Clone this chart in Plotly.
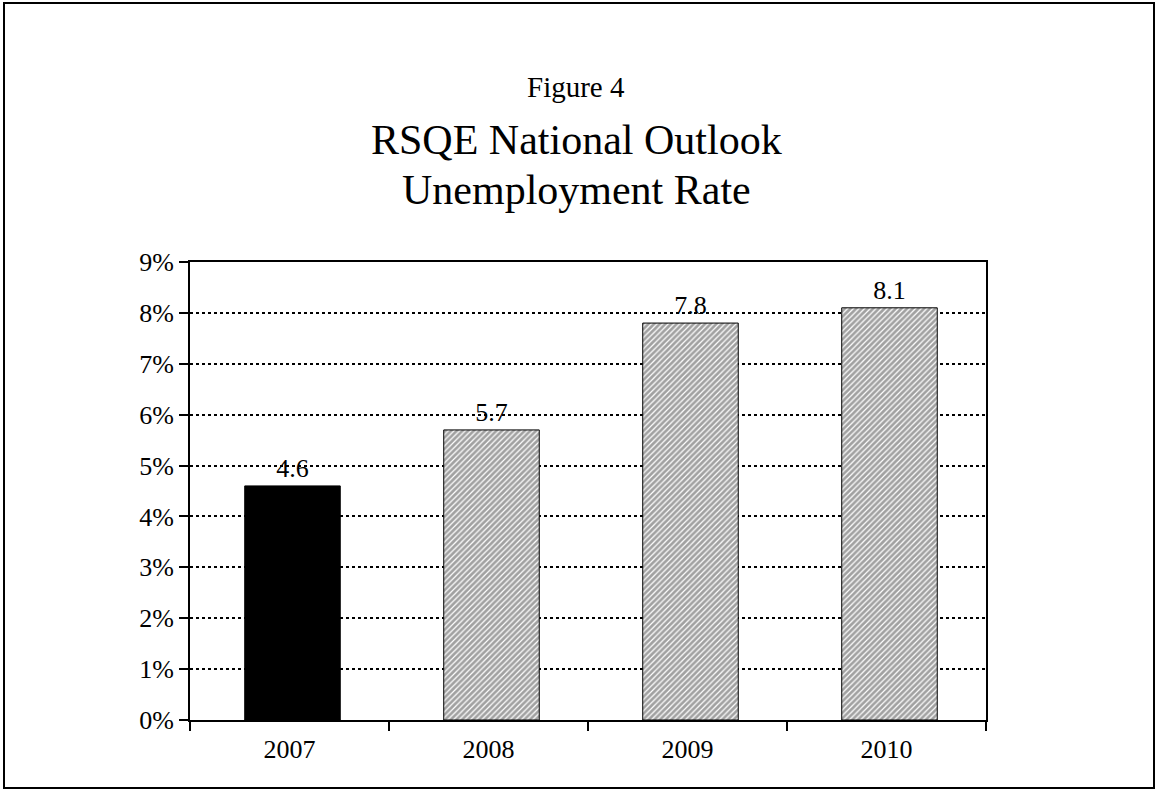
import plotly.graph_objects as go

# Unemployment rate forecast (percent)
years = ["2007", "2008", "2009", "2010"]
rates = [4.6, 5.7, 7.8, 8.1]
actual = [True, False, False, False]  # 2007 is actual, later years are forecasts
y_ticks = [0, 1, 2, 3, 4, 5, 6, 7, 8, 9]

FONT = "Liberation Serif, Times New Roman, serif"

W, H = 1156, 790
L, R, T, B = 190, 170, 262, 70

fig = go.Figure()

fig.add_trace(go.Bar(
    x=years,
    y=rates,
    width=0.48,
    offset=-0.225,
    text=[f"{v:.1f}" for v in rates],
    texttemplate="%{text}",
    textposition="outside",
    textfont=dict(family=FONT, size=26, color="black"),
    cliponaxis=False,
    marker=dict(
        color=["black" if a else "white" for a in actual],
        line=dict(color="black", width=1),
        pattern=dict(
            shape=["" if a else "/" for a in actual],
            fgcolor="black",
            bgcolor="white",
            size=4,
            solidity=0.7,
        ),
    ),
    showlegend=False,
))

# Outer frame around the whole figure, expressed in paper coordinates
pw, ph = W - L - R, H - T - B
def px_x(p):
    return (p - L) / pw
def px_y(p):
    return (H - B - p) / ph

fig.add_shape(type="rect", xref="paper", yref="paper",
              x0=px_x(4), x1=px_x(1154), y0=px_y(788), y1=px_y(3),
              line=dict(color="black", width=2), fillcolor="rgba(0,0,0,0)")

titles = [("Figure 4", 29, 87), ("RSQE National Outlook", 42, 140), ("Unemployment Rate", 42, 190)]
for txt, sz, ypix in titles:
    fig.add_annotation(text=txt, xref="paper", yref="paper",
                       x=px_x(576), y=px_y(ypix), xanchor="center", yanchor="middle",
                       showarrow=False, font=dict(family=FONT, size=sz, color="black"))

# Category boundary ticks on the x axis
for i in range(len(years) + 1):
    fig.add_shape(type="line", xref="paper", yref="paper",
                  x0=i / len(years), x1=i / len(years), y0=0, y1=px_y(731),
                  line=dict(color="black", width=2))

fig.update_layout(
    width=W, height=H,
    margin=dict(l=L, r=R, t=T, b=B, pad=0),
    paper_bgcolor="white",
    plot_bgcolor="white",
    font=dict(family=FONT, size=26, color="black"),
    xaxis=dict(
        type="category",
        showgrid=False,
        showline=True, linecolor="black", linewidth=2, mirror=True,
        ticks="", tickfont=dict(family=FONT, size=26),
        ticklabelstandoff=5,
    ),
    yaxis=dict(
        range=[0, 9],
        tickvals=y_ticks,
        ticktext=[f"{v}%" for v in y_ticks],
        showgrid=True, gridcolor="black", gridwidth=1.5, griddash="dot",
        showline=True, linecolor="black", linewidth=2, mirror=True,
        ticks="outside", ticklen=9, tickwidth=2, tickcolor="black",
        tickfont=dict(family=FONT, size=26),
        zeroline=False,
    ),
)

fig.write_html("out.html")
